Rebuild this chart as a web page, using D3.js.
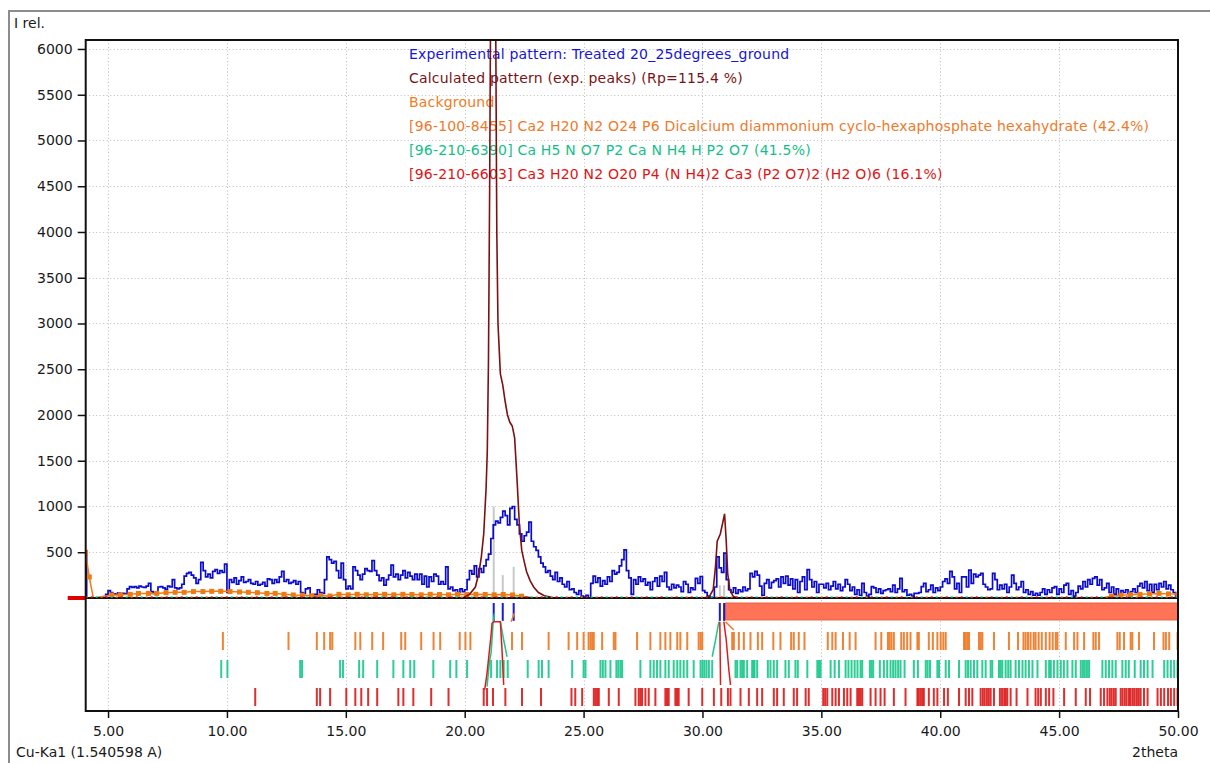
<!DOCTYPE html>
<html>
<head>
<meta charset="utf-8">
<script src="https://cdn.jsdelivr.net/npm/d3@7"></script>
<style>
  html, body { margin: 0; padding: 0; background: #fff; }
  svg { display: block; font-family: "DejaVu Sans", "Liberation Sans", sans-serif; }
</style>
</head>
<body>
<svg id="chart" width="1210" height="763"></svg>
<script>
// ---- Experimental scan: Treated 20_25degrees_ground (2theta start / step, counts) ----
const expStart = 4.05;
const expStep = 0.1;
const expIntensity = [
  480, 0, 0, 0, 0, 0, 0, 0, 0, 40,                 // 4
  80, 60, 45, 40, 55, 35, 50, 45, 100, 125,         // 5
  115, 125, 110, 130, 120, 115, 130, 160, 70, 50,   // 6
  60, 120, 125, 110, 95, 130, 120, 200, 110, 100,   // 7
  110, 150, 240, 270, 280, 250, 220, 160, 200, 390, // 8
  300, 230, 260, 220, 290, 310, 270, 300, 280, 370, // 9
  60, 200, 170, 220, 150, 190, 230, 170, 180, 200,  // 10
  160, 150, 180, 140, 150, 170, 130, 210, 200, 160, // 11
  200, 170, 230, 290, 180, 200, 160, 170, 190, 150, // 12
  180, 60, 50, 100, 110, 30, 20, 40, 90, 60,        // 13
  50, 200, 450, 420, 380, 400, 300, 220, 380, 200,  // 14
  100, 130, 100, 340, 300, 250, 200, 260, 320, 300, // 15
  290, 410, 300, 250, 190, 220, 140, 200, 250, 360, // 16
  230, 260, 200, 250, 300, 220, 280, 240, 200, 260, // 17
  200, 260, 150, 240, 120, 230, 180, 260, 240, 150, // 18
  180, 150, 340, 100, 120, 80, 90, 60, 100, 70,     // 19
  90, 200, 300, 260, 350, 230, 320, 280, 350, 420,  // 20
  480, 650, 800, 840, 820, 880, 950, 900, 800, 980, // 21
  1000, 860, 800, 700, 620, 680, 720, 830, 620, 560,// 22
  520, 450, 380, 340, 280, 300, 240, 200, 280, 180, // 23
  220, 150, 120, 180, 90, 100, 60, 40, 80, 20,      // 24
  10, 30, 0, 160, 240, 170, 220, 130, 190, 150,     // 25
  230, 180, 300, 260, 280, 350, 420, 525, 300, 220, // 26
  40, 200, 150, 230, 180, 210, 140, 170, 90, 180,   // 27
  220, 130, 240, 180, 280, 120, 90, 150, 110, 140,  // 28
  120, 70, 180, 150, 60, 110, 90, 215, 160, 235,    // 29
  80, 60, 20, 10, 0, 120, 450, 330, 280, 490,       // 30
  200, 90, 60, 110, 50, 90, 70, 120, 80, 100,       // 31
  270, 230, 290, 250, 130, 30, 160, 200, 110, 170,  // 32
  190, 210, 120, 230, 160, 240, 140, 210, 100, 200, // 33
  60, 180, 230, 90, 310, 200, 120, 180, 60, 150,    // 34
  150, 110, 160, 90, 130, 180, 100, 150, 80, 120,   // 35
  200, 150, 80, 120, 40, 90, 30, 160, 60, 20,       // 36
  40, 125, 110, 60, 100, 50, 80, 90, 100, 70,       // 37
  140, 60, 100, 215, 70, 90, 30, 40, 20, 50,        // 38
  50, 60, 125, 160, 70, 90, 140, 60, 110, 80,       // 39
  120, 180, 210, 160, 290, 230, 100, 160, 60, 230,  // 40
  230, 120, 305, 160, 260, 230, 250, 270, 150, 120, // 41
  90, 100, 270, 200, 90, 140, 100, 150, 60, 120,    // 42
  250, 160, 90, 120, 180, 60, 90, 40, 70, 30,       // 43
  50, 30, 60, 100, 40, 90, 60, 110, 125, 40,        // 44
  100, 60, 140, 160, 40, 80, 20, 60, 130, 100,      // 45
  180, 120, 200, 150, 215, 230, 140, 200, 90, 110,  // 46
  160, 60, 120, 40, 100, 30, 80, 60, 90, 50,        // 47
  70, 100, 60, 130, 160, 110, 180, 80, 150, 60,     // 48
  150, 90, 160, 120, 180, 100, 140, 90, 60, 20      // 49
];

// ---- Calculated pattern (exp. peaks) ----
const calcTheta = [4.05, 19.8, 19.95, 20.2, 20.45, 20.6, 20.7, 20.8, 20.9, 20.95, 21.0, 21.05, 21.1, 21.2,
  21.3, 21.35, 21.4, 21.5, 21.6, 21.7, 21.8, 21.9, 22.0, 22.1, 22.2, 22.3, 22.4, 22.5, 22.6, 22.75, 22.9,
  23.1, 23.35, 23.7, 24.0, 30.1, 30.3, 30.45, 30.55, 30.62, 30.75, 30.85, 30.93, 31.0, 31.06, 31.15, 31.3,
  31.5, 50.0];
const calcIntensity = [0, 0, 5, 40, 120, 280, 450, 700, 1200, 1600, 2600, 4500, 7000, 8000,
  6500, 4000, 3000, 2450, 2330, 2150, 2000, 1920, 1880, 1750, 1300, 800, 520, 400, 290, 190, 120,
  60, 25, 5, 0, 0, 20, 90, 350, 620, 700, 820, 920, 620, 270, 90, 15,
  0, 0];

// ---- Background ----
const bgTheta = [4.05, 4.21, 4.38, 5.16, 5.51, 5.93, 6.28, 6.70, 7.05, 7.44, 7.82, 8.20, 8.59, 8.99, 9.36,
  9.74, 10.13, 10.53, 10.90, 11.28, 11.68, 12.03, 12.40, 12.79, 13.17, 13.56, 13.94, 14.33, 14.71, 15.10,
  15.48, 15.86, 16.25, 16.63, 17.02, 17.40, 17.78, 18.17, 18.55, 18.94, 19.32, 19.70, 20.09, 20.47, 20.86,
  21.24, 21.62, 22.01, 22.39, 23.00, 46.80, 47.20, 47.60, 48.00, 48.40, 48.80, 49.20, 49.60, 50.00];
const bgIntensity = [500, 230, 0, 33, 35, 40, 50, 50, 50, 58, 62, 62, 70, 70, 73,
  73, 70, 66, 62, 58, 50, 50, 40, 33, 30, 25, 25, 22, 40, 35,
  40, 35, 38, 40, 35, 40, 38, 35, 40, 38, 35, 40, 38, 40, 38,
  35, 38, 33, 20, 0, 0, 20, 30, 35, 40, 45, 50, 45, 40];

// ---- Experimental peak positions and heights ----
const expPeakTheta = [21.22, 21.60, 22.06, 30.73, 30.91];
const expPeakHeight = [1000, 250, 340, 140, 140];

// ---- Reference phase stick positions (2theta) ----
const phase8455 = [9.83, 12.59, 13.78, 14.09, 14.34, 14.43, 15.40, 15.61, 16.11, 16.57, 17.33, 17.50, 18.17,
  18.69, 18.97, 19.79, 20.03, 20.24, 21.99, 22.41, 23.53, 24.37, 24.73, 25.00, 25.21, 25.29, 25.36, 25.43,
  25.78, 26.27, 26.34, 27.25, 27.81, 28.23, 28.44, 28.65, 28.94, 29.07, 29.36, 29.84, 29.92, 29.99, 31.25,
  31.32, 31.53, 31.74, 32.02, 32.33, 32.51, 32.98, 33.28, 33.73, 33.84, 34.05, 34.29, 35.27, 35.46, 35.60,
  35.91, 36.19, 36.44, 37.28, 37.52, 37.80, 37.87, 37.95, 38.05, 38.36, 38.47, 38.61, 38.75, 39.04, 39.10,
  39.52, 39.69, 39.88, 40.02, 40.13, 40.23, 41.00, 41.07, 41.14, 41.21, 41.63, 41.70, 41.77, 42.26, 42.89,
  43.27, 43.50, 43.59, 43.69, 43.80, 43.93, 44.01, 44.14, 44.27, 44.44, 44.60, 44.73, 44.86, 44.93, 45.28,
  45.63, 45.77, 46.05, 46.44, 46.54, 46.68, 47.45, 47.55, 47.73, 48.01, 48.08, 48.36, 48.99, 49.39, 49.49,
  49.63, 49.98];
const phase6390 = [9.76, 10.02, 13.08, 13.16, 14.76, 14.88, 15.56, 15.73, 16.32, 17.00, 17.42, 17.71, 17.88,
  18.68, 19.39, 19.65, 20.10, 21.11, 21.36, 21.50, 21.64, 21.81, 22.65, 23.11, 23.25, 23.53, 24.52, 25.00,
  25.08, 25.71, 25.81, 25.92, 26.13, 26.38, 26.46, 26.55, 26.62, 27.39, 27.81, 27.95, 28.09, 28.23, 28.44,
  28.58, 28.79, 28.94, 29.07, 29.21, 29.36, 29.63, 29.92, 30.00, 30.08, 30.17, 30.27, 30.41, 31.39, 31.46,
  31.60, 31.67, 31.74, 31.88, 32.09, 32.16, 32.19, 32.30, 32.75, 32.86, 33.00, 33.14, 33.49, 33.63, 33.91,
  34.01, 34.41, 34.83, 34.90, 34.97, 35.39, 35.56, 35.74, 36.02, 36.14, 36.27, 36.40, 36.52, 36.65, 36.72,
  37.04, 37.11, 37.18, 37.46, 37.63, 37.77, 37.91, 38.02, 38.12, 38.23, 38.33, 38.50, 38.89, 39.06, 39.39,
  39.47, 39.57, 39.88, 39.95, 40.23, 40.37, 40.79, 41.07, 41.17, 41.28, 41.42, 41.56, 41.77, 41.91, 42.12,
  42.19, 42.47, 42.54, 42.61, 42.75, 42.86, 42.96, 43.17, 43.31, 43.46, 43.59, 43.73, 43.88, 44.09, 44.44,
  44.58, 44.65, 44.78, 44.93, 45.07, 45.20, 45.35, 45.56, 45.70, 45.91, 46.00, 46.08, 46.17, 46.26, 46.82,
  46.96, 47.10, 47.24, 47.38, 47.66, 47.80, 47.93, 48.18, 48.43, 48.57, 48.72, 48.93, 49.42, 49.56, 49.70,
  49.84, 49.98];
const phase6603 = [11.19, 13.78, 13.92, 14.34, 15.02, 15.40, 15.65, 15.94, 16.32, 17.21, 17.42, 17.84, 18.59,
  19.32, 20.80, 20.94, 21.19, 21.71, 22.41, 23.21, 24.49, 24.65, 24.94, 25.43, 25.50, 25.57, 25.64, 26.06,
  26.48, 27.18, 27.32, 27.39, 27.46, 27.60, 27.74, 28.02, 28.44, 28.51, 28.58, 28.86, 28.93, 29.00, 29.42,
  29.99, 30.48, 30.79, 31.07, 31.18, 31.60, 31.95, 32.30, 32.51, 33.00, 33.14, 33.42, 33.84, 33.98, 34.34,
  34.47, 35.08, 35.16, 35.25, 35.46, 35.60, 35.74, 35.95, 36.09, 36.23, 36.51, 36.58, 36.65, 36.72, 37.07,
  37.28, 37.49, 37.66, 38.05, 38.54, 39.04, 39.10, 39.18, 39.25, 39.31, 39.52, 39.73, 39.88, 40.16, 40.32,
  40.79, 41.07, 41.21, 41.35, 41.70, 41.79, 41.87, 41.96, 42.04, 42.12, 42.26, 42.51, 42.60, 42.69, 42.75,
  42.82, 42.96, 43.21, 43.67, 44.01, 44.12, 44.23, 44.44, 44.58, 44.76, 45.21, 45.70, 46.12, 46.30, 46.75,
  46.89, 47.03, 47.13, 47.21, 47.30, 47.38, 47.59, 47.67, 47.76, 47.84, 47.94, 48.01, 48.10, 48.18, 48.27,
  48.35, 48.43, 48.57, 48.72, 49.14, 49.28, 49.42, 49.58, 49.70, 49.84, 49.98];

// ---- Peak-match traces in the stick area (2theta, level); null breaks a trace ----
const trace6603 = [[20.84, -1005], [20.94, -823], [21.05, -550], [21.11, -404], [21.15, -276], [21.22, -259],
  [21.50, -259], [21.57, -568], [21.64, -951], null, [30.73, -259], [30.76, -951], null,
  [30.90, -259], [31.00, -459], [31.11, -787], [31.18, -951]];
const trace6390 = [[20.94, -969], [21.05, -678], [21.11, -600], [21.20, -259], [21.25, -167], null,
  [21.50, -259], [21.64, -459], [21.78, -642], null, [30.41, -642], [30.55, -459], [30.69, -259]];
const trace8455 = [[21.95, -259], [22.09, -167], null, [30.97, -259], [31.32, -350]];

// ---- Region marked from 31 deg to the end of the scan ----
const markedRange = [30.97, 50.0];
const markedLevel = [-55, -240];

// ---- Axes ----
const yTickValues = [500, 1000, 1500, 2000, 2500, 3000, 3500, 4000, 4500, 5000, 5500, 6000];
const xTickValues = [5, 10, 15, 20, 25, 30, 35, 40, 45, 50];
const xDomain = [4.06, 50.0];
const yDomain = [-1235, 6098];

const legendItems = [
  { text: "Experimental pattern: Treated 20_25degrees_ground", color: "#1515d8" },
  { text: "Calculated pattern (exp. peaks) (Rp=115.4 %)", color: "#7a1414" },
  { text: "Background", color: "#f07c22" },
  { text: "[96-100-8455] Ca2 H20 N2 O24 P6 Dicalcium diammonium cyclo-hexaphosphate hexahydrate (42.4%)", color: "#ee7a2a" },
  { text: "[96-210-6390] Ca H5 N O7 P2 Ca N H4 H P2 O7 (41.5%)", color: "#15c088" },
  { text: "[96-210-6603] Ca3 H20 N2 O20 P4 (N H4)2 Ca3 (P2 O7)2 (H2 O)6 (16.1%)", color: "#e01414" }
];

// ================= drawing =================
const svg = d3.select("#chart");
const plot = { left: 85.7, right: 1178, top: 40, bottom: 711 };
const x = d3.scaleLinear().domain(xDomain).range([plot.left, plot.right]);
const y = d3.scaleLinear().domain(yDomain).range([plot.bottom, plot.top]);

const COLORS = {
  exp: "#0b0bcc", calc: "#7d1010", bg: "#f07a12",
  p8455: "#ee7a26", p6390: "#1cc98c", p6603: "#dc1c1c",
  grid: "#bdbdbd", marked: "#ff7356", markedEdge: "#e8603e"
};

// outer window frame
svg.append("path")
  .attr("d", "M9,763 L9,11 L1210,11")
  .attr("fill", "none").attr("stroke", "#8c8c8c").attr("stroke-width", 2);

svg.append("defs").append("clipPath").attr("id", "plotClip")
  .append("rect")
  .attr("x", plot.left).attr("y", plot.top)
  .attr("width", plot.right - plot.left).attr("height", plot.bottom - plot.top);

// grid
const grid = svg.append("g").attr("stroke", COLORS.grid).attr("stroke-width", 1)
  .attr("stroke-dasharray", "1,2.5");
grid.selectAll("line.h").data(yTickValues).join("line").attr("class", "h")
  .attr("x1", plot.left).attr("x2", plot.right)
  .attr("y1", d => Math.round(y(d)) + 0.5).attr("y2", d => Math.round(y(d)) + 0.5);
grid.selectAll("line.v").data(xTickValues.filter(d => d < 50)).join("line").attr("class", "v")
  .attr("x1", d => Math.round(x(d)) + 0.5).attr("x2", d => Math.round(x(d)) + 0.5)
  .attr("y1", plot.top).attr("y2", plot.bottom);

// legend
const legend = svg.append("g").attr("font-size", 14).attr("letter-spacing", 0.2);
legend.selectAll("text").data(legendItems).join("text")
  .attr("x", 409).attr("y", (d, i) => 59 + i * 24)
  .attr("fill", d => d.color)
  .text(d => d.text);

const clipped = svg.append("g").attr("clip-path", "url(#plotClip)");

// experimental peak bars
clipped.selectAll("rect.exppeak").data(expPeakTheta).join("rect").attr("class", "exppeak")
  .attr("x", d => x(d) - 1).attr("width", 2)
  .attr("y", (d, i) => y(expPeakHeight[i])).attr("height", (d, i) => y(0) - y(expPeakHeight[i]))
  .attr("fill", "#c9c9c9");

// experimental pattern
const expData = expIntensity.map((v, i) => [expStart + i * expStep, v]);
clipped.append("path").datum(expData)
  .attr("fill", "none").attr("stroke", COLORS.exp).attr("stroke-width", 1.7)
  .attr("d", d3.line().x(d => x(d[0])).y(d => y(d[1])).curve(d3.curveStep));

// background
const bgData = bgTheta.map((t, i) => [t, bgIntensity[i]]);
clipped.append("path").datum(bgData)
  .attr("fill", "none").attr("stroke", COLORS.bg).attr("stroke-width", 1.5)
  .attr("d", d3.line().x(d => x(d[0])).y(d => y(d[1])));
clipped.selectAll("rect.bgm").data(bgData.filter(d => d[1] > 0)).join("rect").attr("class", "bgm")
  .attr("x", d => x(d[0]) - 2.5).attr("y", d => y(d[1]) - 2.5)
  .attr("width", 5).attr("height", 5).attr("fill", COLORS.bg);

// calculated pattern
const calcData = calcTheta.map((t, i) => [t, calcIntensity[i]]);
clipped.append("path").datum(calcData)
  .attr("fill", "none").attr("stroke", COLORS.calc).attr("stroke-width", 1.6)
  .attr("d", d3.line().x(d => x(d[0])).y(d => y(d[1])));

// zero line with phase profiles lying on it
svg.append("line")
  .attr("x1", plot.left).attr("x2", plot.right).attr("y1", y(0)).attr("y2", y(0))
  .attr("stroke", "#111").attr("stroke-width", 2);
[[COLORS.p8455, 0], [COLORS.p6390, 5], [COLORS.p6603, 10]].forEach(([c, off]) => {
  svg.append("line")
    .attr("x1", plot.left).attr("x2", plot.right).attr("y1", y(0) - 1).attr("y2", y(0) - 1)
    .attr("stroke", c).attr("stroke-width", 1.5)
    .attr("stroke-dasharray", "2,13").attr("stroke-dashoffset", off);
});

// zero marker left of the axis
svg.append("rect")
  .attr("x", plot.left - 18).attr("width", 18)
  .attr("y", y(0) - 2).attr("height", 4).attr("fill", "#e00000");

// marked region
svg.append("rect")
  .attr("x", x(markedRange[0])).attr("width", x(markedRange[1]) - x(markedRange[0]))
  .attr("y", y(markedLevel[0])).attr("height", y(markedLevel[1]) - y(markedLevel[0]))
  .attr("fill", COLORS.marked).attr("stroke", COLORS.markedEdge).attr("stroke-width", 1);

// experimental peak positions below zero
svg.selectAll("rect.expmark").data(expPeakTheta).join("rect").attr("class", "expmark")
  .attr("x", d => x(d) - 1).attr("width", 2)
  .attr("y", y(-55)).attr("height", y(-250) - y(-55))
  .attr("fill", "#1b1bd0");

// phase stick rows
const rows = [
  { data: phase8455, color: COLORS.p8455, top: 632, bottom: 650 },
  { data: phase6390, color: COLORS.p6390, top: 660, bottom: 678 },
  { data: phase6603, color: COLORS.p6603, top: 688, bottom: 706 }
];
rows.forEach(r => {
  svg.append("g").selectAll("rect").data(r.data).join("rect")
    .attr("x", d => x(d) - 1).attr("width", 2)
    .attr("y", r.top).attr("height", r.bottom - r.top)
    .attr("fill", r.color).attr("opacity", 0.92);
});

// peak-match traces
const traceLine = d3.line().defined(d => d !== null).x(d => x(d[0])).y(d => y(d[1]));
[[trace6390, COLORS.p6390], [trace6603, COLORS.p6603], [trace8455, COLORS.p8455]].forEach(([tr, c]) => {
  svg.append("path").datum(tr)
    .attr("fill", "none").attr("stroke", c).attr("stroke-width", 1.5)
    .attr("d", traceLine);
});

// plot frame
svg.append("rect")
  .attr("x", plot.left).attr("y", plot.top)
  .attr("width", plot.right - plot.left).attr("height", plot.bottom - plot.top)
  .attr("fill", "none").attr("stroke", "#111").attr("stroke-width", 2);

// y axis
const yAxis = svg.append("g").attr("transform", `translate(${plot.left},0)`)
  .call(d3.axisLeft(y).tickValues(yTickValues).tickSize(8).tickPadding(5).tickFormat(d3.format("d")));
yAxis.select(".domain").remove();
yAxis.selectAll(".tick line").attr("stroke", "#111").attr("stroke-width", 1.5);
yAxis.selectAll(".tick text").attr("font-size", 14).attr("fill", "#1a1a1a")
  .attr("font-family", "DejaVu Sans, sans-serif");

// x axis
const xAxis = svg.append("g").attr("transform", `translate(0,${plot.bottom})`)
  .call(d3.axisBottom(x).tickValues(xTickValues).tickSize(7).tickPadding(8).tickFormat(d3.format(".2f")));
xAxis.select(".domain").remove();
xAxis.selectAll(".tick line").attr("stroke", "#111").attr("stroke-width", 1.5);
xAxis.selectAll(".tick text").attr("font-size", 14).attr("fill", "#1a1a1a")
  .attr("font-family", "DejaVu Sans, sans-serif");

// axis captions
svg.append("text").attr("x", 14).attr("y", 28).attr("font-size", 14).attr("fill", "#1a1a1a").text("I rel.");
svg.append("text").attr("x", 16).attr("y", 757).attr("font-size", 14).attr("fill", "#1a1a1a").text("Cu-Ka1 (1.540598 A)");
svg.append("text").attr("x", plot.right).attr("y", 757).attr("font-size", 14).attr("fill", "#1a1a1a")
  .attr("text-anchor", "end").text("2theta");
</script>
</body>
</html>
